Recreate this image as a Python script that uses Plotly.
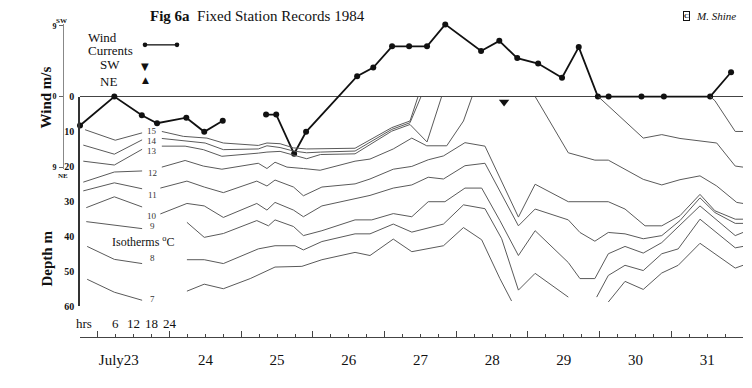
import plotly.graph_objects as go

# ---------------- data (hours from 23 July 00:00, depth m, wind m/s) ----------------
wind_hours = [-6, 5.5, 14.7, 19.8, 29.6, 35.6, 41.8, None, 56.3, 59.7, 65.7, 69.7, 86.8, 92.2,
              98.5, 104.2, 110.2, 116.3, 128.3, 134.4, 140.4, 147.4, 155.4, 161.0, 167.4, 171.0,
              182.0, 189.5, 205.0, 212.0]
wind_speed = [-3.7, 0, -2.4, -3.4, -2.7, -4.5, -3.1, None, -2.3, -2.3, -7.3, -4.5, 2.6, 3.7,
              6.4, 6.4, 6.4, 9.2, 5.8, 7.1, 4.9, 4.2, 2.4, 6.3, 0, 0,
              0, 0, 0, 3.1]

sw_current_hours = [136]
sw_current_level = [-0.7]

iso15_h = [-4.3, 5.8, 14.8, None, 21.4, 28.6, 36.5, 42.0, 53.7, 56.6, 61.0, 65.5, 69.9, 74.5, 86.1, 98.4, 104.5, 107.2]
iso15_d = [9.5, 12.5, 10.4, None, 10.0, 11.4, 11.9, 13.3, 14.0, 13.3, 13.5, 14.7, 15.0, 15.0, 14.8, 8.9, 7.0, 0]

iso14_h = [-4.9, 5.5, 14.8, None, 21.4, 29.2, 35.9, 42.0, 53.7, 56.6, 61.0, 65.5, 69.9, 74.5, 86.1, 98.4, 104.5, 108.2,
           None, 205.0, 206.6, 213.4, 216]
iso14_d = [13.9, 16.5, 12.4, None, 12.0, 12.8, 13.3, 15.2, 15.0, 14.1, 14.6, 15.6, 16.1, 15.9, 15.6, 9.4, 7.5, 0,
           None, 0, 1.2, 10.0, 10.0]

iso13_h = [-4.9, 5.5, 14.8, None, 21.4, 29.2, 35.3, 41.5, 53.7, 56.6, 61.0, 65.5, 69.9, 74.5, 86.1, 98.4, 104.5, 110.2, 115.1,
           None, 167.5, 182.6, 188.8, 194.9, 207.2, 213.4, 216]
iso13_d = [18.5, 19.6, 15.1, None, 14.2, 14.2, 15.2, 17.1, 16.2, 15.9, 15.7, 16.8, 17.8, 16.6, 16.4, 9.9, 8.0, 13.0, 0,
           None, 0, 11.9, 10.9, 12.0, 13.3, 19.9, 20.2]

iso12_h = [-4.9, 5.5, 14.8, None, 21.4, 29.2, 35.3, 41.5, 53.7, 56.6, 59.3, 63.3, 68.8, 74.4, 86.1, 91.1, 98.9, 105.1,
           110.1, 116.8, 122.4, 125.3, None, 146.4, 157.5, 166.4, 170.9, 182.6, 188.8, 194.9, 201.6, 207.2, 213.9, 216]
iso12_d = [24.5, 21.6, 21.3, None, 20.2, 18.3, 19.9, 20.8, 19.1, 20.6, 18.8, 20.2, 20.6, 21.1, 18.5, 17.9, 15.0, 11.9,
           14.1, 14.1, 7.0, 0, None, 0, 16.1, 18.2, 18.2, 23.7, 25.3, 23.8, 22.7, 25.6, 30.3, 30.6]

iso11_h = [-4.9, 5.5, 14.8, None, 20.9, 29.8, 35.6, 42.0, 53.2, 56.6, 59.3, 65.5, 68.8, 75.0, 86.1, 91.1, 98.9, 105.1,
           110.6, 115.7, 122.9, 129.6, 140.8, 146.4, 157.5, 170.9, 176.5, 183.2, 188.8, 194.9, 201.6, 206.6, 213.4, 216]
iso11_d = [27.0, 24.7, 26.4, None, 26.2, 24.2, 25.9, 27.5, 24.2, 25.6, 23.9, 25.9, 28.4, 25.9, 25.0, 23.6, 20.8, 20.0,
           18.1, 17.0, 13.2, 14.2, 34.5, 25.1, 30.1, 30.1, 32.2, 37.0, 37.0, 34.1, 28.0, 32.7, 35.1, 35.1]

iso10_h = [-3.9, 5.5, 14.8, None, 20.9, 29.8, 35.6, 42.0, 53.2, 56.6, 59.3, 65.5, 68.8, 75.0, 91.1, 98.9, 105.1, 110.6,
           115.7, 122.9, 129.6, 140.8, 146.4, 157.5, 161.4, 166.4, 170.9, 176.5, 182.6, 188.8, 194.9, 201.6, 206.6, 213.4, 216]
iso10_d = [31.8, 28.7, 31.6, None, 33.6, 30.6, 31.3, 34.6, 30.6, 32.5, 30.3, 32.5, 34.4, 31.3, 28.3, 26.2, 25.3, 23.1,
           23.6, 19.8, 19.1, 37.0, 32.2, 35.3, 38.9, 41.4, 38.9, 39.3, 40.7, 39.8, 35.5, 29.0, 33.2, 36.3, 36.3]

iso9_h = [-3.9, 5.5, 14.8, None, 29.8, 35.6, 42.0, 53.2, 57.1, 59.3, 65.5, 68.8, 75.0, 86.1, 91.7, 98.9, 105.1, 110.6,
          116.2, 122.9, 128.5, 134.6, 140.8, 146.4, 157.5, 161.4, 166.4, 170.9, 176.5, 182.6, 188.8, 194.3, 201.6, 213.4, 216]
iso9_d = [35.8, 36.7, 37.8, None, 36.0, 40.3, 39.2, 35.5, 37.0, 35.3, 37.2, 39.8, 38.4, 35.3, 35.3, 33.5, 34.4, 30.1,
          30.1, 26.2, 26.2, 35.5, 45.5, 38.4, 47.5, 52.1, 52.1, 45.0, 42.9, 44.8, 41.8, 37.4, 31.3, 39.8, 38.9]

iso8_h = [-3.6, 5.5, 14.8, None, 29.8, 35.6, 42.0, 53.7, 59.3, 66.0, 68.8, 75.0, 86.1, 91.1, 98.9, 105.1, 115.7, 122.4,
          129.6, 135.2, 140.8, 146.4, 157.5, None, 167.0, 170.9, 176.5, 182.6, 188.8, 194.3, 201.6, 213.4, 216]
iso8_d = [42.9, 46.6, 47.8, None, 46.7, 46.7, 47.8, 43.6, 42.7, 42.7, 43.9, 41.5, 39.3, 39.3, 36.5, 38.8, 36.5, 31.0,
          32.1, 40.7, 55.4, 50.6, 57.4, None, 57.4, 51.2, 48.3, 49.8, 45.0, 43.6, 35.1, 43.3, 42.9]

iso7_h = [-3.6, 5.5, 14.8, None, 29.8, 35.6, 42.0, 51.0, 59.3, 68.3, 75.0, 86.1, 91.1, 98.9, 105.1, 115.7, 122.4, 128.5,
          134.6, 138.5, None, 170.9, 176.5, 182.6, 188.8, 194.3, 201.6, 213.4, 216]
iso7_d = [52.3, 56.0, 58.3, None, 55.7, 53.7, 55.0, 52.1, 48.8, 48.6, 46.7, 44.6, 45.5, 40.8, 44.4, 42.7, 37.5, 41.0,
          52.1, 58.5, None, 58.8, 52.9, 55.2, 50.5, 48.3, 42.0, 49.1, 48.3]

isotherm_names = ["15", "14", "13", "12", "11", "10", "9", "8", "7"]
isotherm_hours = [iso15_h, iso14_h, iso13_h, iso12_h, iso11_h, iso10_h, iso9_h, iso8_h, iso7_h]
isotherm_depths = [iso15_d, iso14_d, iso13_d, iso12_d, iso11_d, iso10_d, iso9_d, iso8_d, iso7_d]

day_labels = ["July23", "24", "25", "26", "27", "28", "29", "30", "31"]
day_label_hours = [7, 36, 60, 84, 108, 132, 156, 180, 204]
hour_labels = ["6", "12", "18", "24"]
hour_label_hours = [6, 12, 18, 24]
depth_ticks = [0, 10, 20, 30, 40, 50, 60]
wind_ticks = [-9, 0, 9]
wind_tick_text = ["9", "0", "9"]

# ---------------- layout geometry (page pixels; the page body adds an 8 px margin) ----------------
PAGE_OFF = 8
W, H = 752 - PAGE_OFF, 388 - PAGE_OFF
PLOT_L, PLOT_R, PLOT_T, PLOT_B = 63, 743, 20, 337          # plot area in page pixels
ML, MT = PLOT_L - PAGE_OFF, PLOT_T - PAGE_OFF
MR, MB = W - (PLOT_R - PAGE_OFF), H - (PLOT_B - PAGE_OFF)
PW = PLOT_R - PLOT_L
PH = PLOT_B - PLOT_T


def px(x):
    return (x - PLOT_L) / PW


def py(y):
    return (PLOT_B - y) / PH


SERIF = "Liberation Serif, Times New Roman, serif"
ISO_COLOR = "#5a5a5a"

fig = go.Figure()

for name, hs, ds in zip(isotherm_names, isotherm_hours, isotherm_depths):
    fig.add_trace(go.Scatter(x=hs, y=ds, mode="lines", name=name + " °C",
                             line=dict(color=ISO_COLOR, width=1), xaxis="x2", yaxis="y",
                             connectgaps=False, showlegend=False, hoverinfo="skip"))

fig.add_trace(go.Scatter(x=wind_hours, y=wind_speed, mode="lines+markers", name="Wind Currents",
                         line=dict(color="#111", width=1.8), marker=dict(color="#111", size=6),
                         xaxis="x", yaxis="y2", connectgaps=False, cliponaxis=False, showlegend=False))

fig.add_trace(go.Scatter(x=sw_current_hours, y=sw_current_level, mode="markers", name="SW",
                         marker=dict(symbol="triangle-down", color="#111", size=9),
                         xaxis="x", yaxis="y2", cliponaxis=False, showlegend=False))

xdom = [px(80), 1.0]

fig.update_layout(
    width=W, height=H,
    margin=dict(l=ML, r=MR, t=MT, b=MB, pad=0),
    paper_bgcolor="white", plot_bgcolor="rgba(0,0,0,0)",
    font=dict(family=SERIF, color="#111"),
    showlegend=False,
    xaxis=dict(domain=xdom, range=[-6, 216], anchor="free", position=0,
               showline=True, linecolor="#444", linewidth=1, showgrid=False, zeroline=False,
               ticks="inside", tick0=0, dtick=24, ticklen=6, tickcolor="#444",
               showticklabels=False,
               minor=dict(ticks="inside", tick0=0, dtick=6, ticklen=3, tickcolor="#444", showgrid=False)),
    xaxis2=dict(overlaying="x", matches="x", anchor="free", position=0, range=[-6, 216],
                showline=False, showgrid=False, zeroline=False, ticks="",
                tickmode="array", tickvals=day_label_hours, ticktext=day_labels,
                ticklabelstandoff=12, tickfont=dict(size=15, family=SERIF, color="#111")),
    yaxis=dict(domain=[py(306), py(95)], range=[60, 0], anchor="x",
               showline=True, linecolor="#333", linewidth=1.5, showgrid=False, zeroline=False,
               ticks="", tickmode="array", tickvals=depth_ticks,
               ticktext=["<b>%d</b>" % t for t in depth_ticks], ticklabelstandoff=2,
               tickfont=dict(size=10, family=SERIF, color="#111")),
    yaxis2=dict(domain=[py(168), py(22)], range=[-9.25, 9.25], anchor="free", position=0,
                autoshift=False, shift=0,
                showline=True, linecolor="#888", linewidth=1, showgrid=False,
                zeroline=True, zerolinecolor="#444", zerolinewidth=1,
                ticks="outside", ticklen=4, tickcolor="#666", tickmode="array",
                tickvals=wind_ticks, ticktext=["<b>%s</b>" % t for t in wind_tick_text],
                ticklabelstandoff=1,
                tickfont=dict(size=8, family=SERIF, color="#111")),
)

ann = []


def add_text(x, y, text, size, xanchor="center", yanchor="middle", angle=0, color="#111",
             family=SERIF, **kw):
    ann.append(dict(x=px(x), y=py(y), xref="paper", yref="paper", text=text, showarrow=False,
                    xanchor=xanchor, yanchor=yanchor, textangle=angle,
                    font=dict(size=size, family=family, color=color), **kw))


# title
add_text(148, 14, "<b>Fig 6a</b>\u00a0\u00a0Fixed Station Records 1984", 15, xanchor="left")
# copyright
add_text(686, 14, "<b>C</b>", 7, bordercolor="#111", borderwidth=1, borderpad=0)
add_text(694, 14, "<i>M. Shine</i>", 11, xanchor="left")
# axis titles
add_text(46, 96, "<b>Wind m/s</b>", 15, angle=-90)
add_text(47, 258, "<b>Depth m</b>", 15, angle=-90)
# wind axis direction labels
add_text(61, 19, "<b>SW</b>", 7)
add_text(63, 175, "<b>NE</b>", 7)
# legend
add_text(86, 36, "Wind", 13, xanchor="left")
add_text(86, 49, "Currents", 13, xanchor="left")
add_text(98, 63, "SW", 13, xanchor="left")
add_text(98, 80, "NE", 13, xanchor="left")
add_text(145, 65, "▼", 10, family="DejaVu Sans")
add_text(145, 78, "▲", 9, family="DejaVu Sans")
# isotherm labels
iso_label_y = [130, 140, 150, 172, 194, 215, 225, 257, 299]
for name, yy in zip(isotherm_names, iso_label_y):
    add_text(152, yy, name, 9, color="#333")
add_text(143, 241, "Isotherms <sup>o</sup>C", 12)
# hour labels
add_text(83.5, 323, "hrs", 13)
for lab, hh in zip(hour_labels, hour_label_hours):
    ann.append(dict(x=hh, y=py(323), xref="x", yref="paper", text=lab, showarrow=False,
                    xanchor="center", yanchor="middle", font=dict(size=13, family=SERIF, color="#111")))

fig.update_layout(annotations=ann)

# legend key for the wind/currents line
fig.add_shape(type="line", xref="paper", yref="paper", x0=px(145), x1=px(177), y0=py(43), y1=py(43),
              line=dict(color="#111", width=1.3))
for xx in (145, 177):
    fig.add_shape(type="circle", xref="paper", yref="paper", x0=px(xx - 2.3), x1=px(xx + 2.3),
                  y0=py(43 + 2.3), y1=py(43 - 2.3), fillcolor="#111", line=dict(color="#111", width=0))

fig.write_html("out.html")
